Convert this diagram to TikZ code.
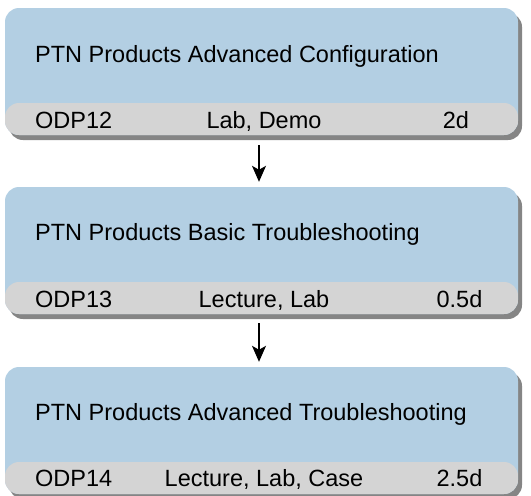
\documentclass[tikz,border=0pt]{standalone}
\usepackage{fontspec}
\setmainfont{Liberation Sans}
\usetikzlibrary{shadows,arrows.meta}
\definecolor{boxblue}{HTML}{B3CFE3}
\definecolor{bandgray}{HTML}{D4D4D4}
\definecolor{shadowgray}{HTML}{858585}
\begin{document}
\begin{tikzpicture}[x=1pt,y=-1pt,
  course/.style={rectangle, rounded corners=14pt, fill=boxblue,
    minimum width=513pt, minimum height=127pt, inner sep=0pt,
    drop shadow={shadow xshift=4pt, shadow yshift=-5pt, fill=shadowgray, opacity=1},
    path picture={\fill[bandgray] ([yshift=32pt]path picture bounding box.south west) rectangle (path picture bounding box.south east);}},
  txt/.style={inner sep=0pt, font=\fontsize{23.5}{28}\selectfont},
  flow/.style={line width=1.5pt, -{Stealth[length=16pt,width=14pt,inset=4pt]}}
]
\useasboundingbox (0,0) rectangle (531,496);
\node[course] (b1) at (261.5,71.5) {};
\node[course] (b2) at (261.5,250.5) {};
\node[course] (b3) at (261.5,430.5) {};

\node[txt,anchor=base west] (t1) at (35,62) {PTN Products Advanced Configuration};
\node[txt,anchor=base west] (c1) at (35,128) {ODP12};
\node[txt,anchor=base] (m1) at (264,128) {Lab, Demo};
\node[txt,anchor=base] (d1) at (456,128) {2d};

\node[txt,anchor=base west] (t2) at (35,240) {PTN Products Basic Troubleshooting};
\node[txt,anchor=base west] (c2) at (35,307) {ODP13};
\node[txt,anchor=base] (m2) at (264,307) {Lecture, Lab};
\node[txt,anchor=base] (d2) at (459.5,307) {0.5d};

\node[txt,anchor=base west] (t3) at (35,420) {PTN Products Advanced Troubleshooting};
\node[txt,anchor=base west] (c3) at (35,486) {ODP14};
\node[txt,anchor=base] (m3) at (264,486) {Lecture, Lab, Case};
\node[txt,anchor=base] (d3) at (459.5,486) {2.5d};

\draw[flow] ([xshift=-2.5pt,yshift=-10pt]b1.south) -- ([xshift=-2.5pt,yshift=5pt]b2.north);
\draw[flow] ([xshift=-2.5pt,yshift=-9pt]b2.south) -- ([xshift=-2.5pt,yshift=5pt]b3.north);
\end{tikzpicture}
\end{document}
